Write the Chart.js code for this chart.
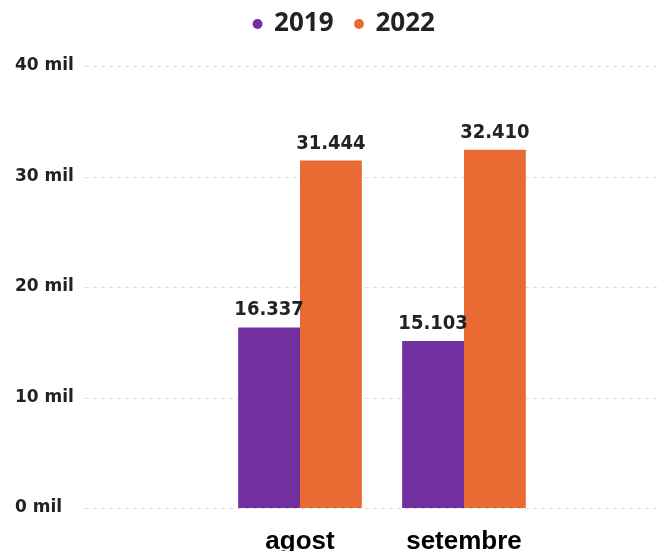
<!DOCTYPE html>
<html>
<head>
<meta charset="utf-8">
<script src="https://cdn.jsdelivr.net/npm/chart.js@4.4.1/dist/chart.umd.min.js"></script>
<style>
  html, body { margin: 0; padding: 0; background: #fff; }
  #wrap { width: 661px; height: 551px; }
</style>
</head>
<body>
<div id="wrap"><canvas id="chart"></canvas></div>
<script>
const categories = ['agost', 'setembre'];
const years = ['2019', '2022'];
const values2019 = [16337, 15103];
const values2022 = [31444, 32410];
const yTicks = [0, 10000, 20000, 30000, 40000];

const colors = ['#7030A0', '#E96B33'];

// 31444 -> "31.444"
function fmt(v) {
  return String(v).replace(/\B(?=(\d{3})+(?!\d))/g, '.');
}

// dotted gridlines run across the whole width, not only the bar area
const fullGrid = {
  id: 'fullGrid',
  beforeDatasetsDraw(chart) {
    const ctx = chart.ctx;
    const y = chart.scales.y;
    ctx.save();
    ctx.strokeStyle = '#dcdcdc';
    ctx.lineWidth = 1;
    ctx.setLineDash([4, 4]);
    yTicks.forEach(t => {
      const py = Math.round(y.getPixelForValue(t)) + 0.5;
      ctx.beginPath();
      ctx.moveTo(85, py);
      ctx.lineTo(chart.width, py);
      ctx.stroke();
    });
    ctx.restore();
  }
};

const valueLabels = {
  id: 'valueLabels',
  afterDatasetsDraw(chart) {
    const ctx = chart.ctx;
    ctx.save();
    ctx.font = 'bold 20px "DejaVu Sans Condensed", "DejaVu Sans", sans-serif';
    ctx.fillStyle = '#222';
    ctx.textAlign = 'center';
    ctx.textBaseline = 'alphabetic';
    chart.data.datasets.forEach((ds, i) => {
      chart.getDatasetMeta(i).data.forEach((bar, j) => {
        ctx.fillText(fmt(ds.data[j]), bar.x, bar.y - 12);
      });
    });
    ctx.restore();
  }
};

// legend: fixed height, then nudged up and to the right like the original
const legendSpot = {
  id: 'legendSpot',
  beforeInit(chart) {
    const fit = chart.legend.fit;
    chart.legend.fit = function () {
      fit.call(this);
      this.height = 66;
    };
  },
  afterLayout(chart) {
    const l = chart.legend;
    l.left += 64;
    l.right += 64;
    l.top -= 11;
    l.bottom -= 11;
  }
};

const ctx = document.getElementById('chart').getContext('2d');
new Chart(ctx, {
  type: 'bar',
  data: {
    labels: categories,
    datasets: [
      { label: years[0], data: values2019, backgroundColor: colors[0], categoryPercentage: 0.754, barPercentage: 1.0 },
      { label: years[1], data: values2022, backgroundColor: colors[1], categoryPercentage: 0.754, barPercentage: 1.0 }
    ]
  },
  options: {
    responsive: true,
    maintainAspectRatio: false,
    animation: false,
    layout: { padding: { left: 15, right: 115, top: 0, bottom: 0 } },
    scales: {
      x: {
        grid: { display: false },
        border: { display: false },
        ticks: {
          color: '#000',
          padding: 10,
          font: { family: 'Liberation Sans', size: 26, weight: 'bold' }
        },
        afterFit: s => { s.height = 43; }
      },
      y: {
        min: 0,
        max: 40000,
        afterBuildTicks: s => { s.ticks = yTicks.map(v => ({ value: v })); },
        grid: { display: false },
        border: { display: false },
        ticks: {
          crossAlign: 'far',
          padding: 0,
          color: '#222',
          font: { family: 'DejaVu Sans', size: 17, weight: 'bold' },
          callback: v => (v / 1000) + ' mil'
        },
        afterFit: s => { s.width = 218 - 15; }
      }
    },
    plugins: {
      legend: {
        position: 'top',
        labels: {
          usePointStyle: true,
          pointStyle: 'circle',
          boxWidth: 7,
          boxHeight: 7,
          padding: 22,
          color: '#222',
          font: { family: 'Open Sans', size: 26, weight: 'bold' }
        }
      },
      tooltip: { enabled: false }
    }
  },
  plugins: [legendSpot, fullGrid, valueLabels]
});
</script>
</body>
</html>
